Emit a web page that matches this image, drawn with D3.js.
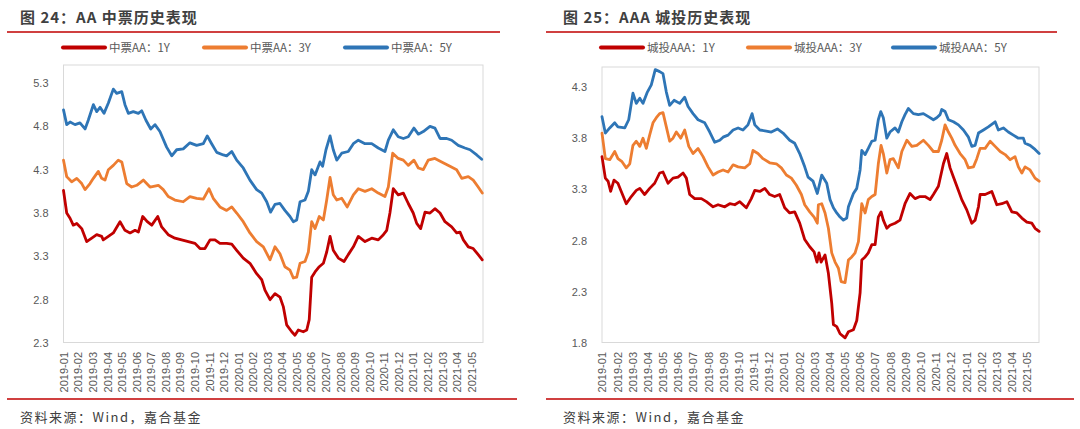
<!DOCTYPE html>
<html><head><meta charset="utf-8">
<script src="https://cdn.jsdelivr.net/npm/d3@7/dist/d3.min.js"></script>
<style>
html,body{margin:0;padding:0;background:#fff;}
svg{display:block;}
text{font-family:"Liberation Sans","Noto Sans CJK SC",Arial,sans-serif;}
.cjk{font-family:"Noto Sans CJK SC","Liberation Sans",sans-serif;}
</style></head>
<body>
<svg id="chart" width="1080" height="429"></svg>
<script>
// ---------- tick labels (month categories) ----------
const monthLabels = ["2019-01","2019-02","2019-03","2019-04","2019-05","2019-06","2019-07","2019-08","2019-09","2019-10","2019-11","2019-12",
  "2020-01","2020-02","2020-03","2020-04","2020-05","2020-06","2020-07","2020-08","2020-09","2020-10","2020-11","2020-12",
  "2021-01","2021-02","2021-03","2021-04","2021-05"];
const leftYTicks = [2.3, 2.8, 3.3, 3.8, 4.3, 4.8, 5.3];
const rightYTicks = [1.8, 2.3, 2.8, 3.3, 3.8, 4.3];

// ---------- series: [month offset from 2019-01-01, yield %] ----------
const mtnAA1Y = [[0,4.06],[0.22,3.80],[0.45,3.74],[0.67,3.66],[0.91,3.68],[1.25,3.62],[1.59,3.47],[1.94,3.51],[2.28,3.55],[2.62,3.53],[2.73,3.49],[3.08,3.53],[3.42,3.57],[3.88,3.70],[4.22,3.60],[4.57,3.57],[4.91,3.60],[5.14,3.58],[5.44,3.76],[5.75,3.70],[6.06,3.66],[6.47,3.76],[6.74,3.64],[7.19,3.55],[7.65,3.51],[8.11,3.49],[8.57,3.47],[9.03,3.45],[9.37,3.39],[9.71,3.39],[10.06,3.49],[10.40,3.49],[10.74,3.45],[11.20,3.45],[11.55,3.44],[11.89,3.37],[12.34,3.28],[12.80,3.22],[13.26,3.10],[13.61,3.03],[13.83,2.91],[14.18,2.80],[14.52,2.87],[14.86,2.83],[15.09,2.72],[15.32,2.51],[15.67,2.43],[15.89,2.39],[16.12,2.45],[16.46,2.43],[16.70,2.45],[16.87,2.57],[17.04,3.06],[17.27,3.12],[17.56,3.18],[17.84,3.22],[18.07,3.35],[18.30,3.53],[18.52,3.37],[18.87,3.28],[19.26,3.24],[19.55,3.32],[19.90,3.41],[20.24,3.53],[20.70,3.47],[21.16,3.51],[21.61,3.49],[21.96,3.55],[22.19,3.60],[22.41,3.80],[22.64,4.08],[22.98,4.01],[23.33,4.03],[23.67,3.91],[24.01,3.80],[24.25,3.68],[24.52,3.62],[24.82,3.81],[25.16,3.80],[25.50,3.85],[25.85,3.80],[26.19,3.70],[26.65,3.64],[26.99,3.57],[27.22,3.58],[27.45,3.49],[27.79,3.41],[28.13,3.39],[28.47,3.32],[28.75,3.26]];
const mtnAA3Y = [[0,4.41],[0.22,4.22],[0.56,4.16],[0.91,4.20],[1.25,4.14],[1.48,4.07],[1.82,4.14],[2.05,4.20],[2.39,4.28],[2.62,4.20],[2.85,4.18],[3.08,4.30],[3.42,4.35],[3.76,4.41],[4.00,4.39],[4.34,4.14],[4.68,4.10],[5.03,4.12],[5.48,4.18],[5.94,4.10],[6.51,4.12],[6.85,4.07],[7.19,3.99],[7.65,3.95],[8.22,3.93],[8.68,3.99],[9.14,3.97],[9.60,3.96],[9.99,4.08],[10.28,3.97],[10.74,3.87],[11.20,3.83],[11.55,3.87],[11.89,3.80],[12.34,3.70],[12.80,3.57],[13.26,3.47],[13.72,3.41],[14.18,3.26],[14.52,3.41],[14.86,3.33],[15.20,3.18],[15.55,3.14],[15.78,3.05],[16.01,3.06],[16.24,3.22],[16.58,3.24],[16.81,3.35],[17.04,3.70],[17.27,3.62],[17.56,3.76],[17.84,3.72],[18.07,3.95],[18.30,4.21],[18.52,4.01],[18.76,3.95],[19.10,3.97],[19.48,3.87],[19.90,4.01],[20.24,4.08],[20.70,4.05],[21.16,4.08],[21.61,4.03],[22.07,3.99],[22.30,4.10],[22.60,4.49],[22.98,4.43],[23.33,4.41],[23.67,4.35],[24.06,4.41],[24.36,4.32],[24.70,4.30],[25.04,4.41],[25.50,4.43],[25.96,4.39],[26.53,4.34],[26.99,4.30],[27.34,4.20],[27.79,4.22],[28.13,4.18],[28.47,4.10],[28.75,4.03]];
const mtnAA5Y = [[0,4.99],[0.22,4.82],[0.45,4.85],[0.79,4.82],[1.13,4.84],[1.48,4.77],[1.70,4.87],[2.05,5.05],[2.28,4.97],[2.51,5.02],[2.78,4.95],[3.08,5.07],[3.42,5.23],[3.65,5.18],[4.00,5.20],[4.22,5.05],[4.45,4.95],[4.79,4.97],[5.14,4.95],[5.37,4.98],[5.66,4.87],[5.99,4.77],[6.28,4.82],[6.62,4.74],[7.08,4.56],[7.43,4.46],[7.77,4.53],[8.22,4.54],[8.68,4.61],[9.14,4.58],[9.60,4.60],[9.87,4.69],[10.17,4.60],[10.52,4.50],[10.97,4.47],[11.20,4.46],[11.55,4.51],[11.89,4.41],[12.34,4.32],[12.80,4.18],[13.26,4.07],[13.61,4.03],[13.95,3.93],[14.22,3.81],[14.52,3.90],[14.86,3.91],[15.20,3.83],[15.55,3.76],[15.78,3.70],[16.01,3.72],[16.24,3.93],[16.58,3.95],[16.81,4.05],[17.04,4.30],[17.27,4.24],[17.61,4.39],[17.79,4.34],[18.02,4.53],[18.30,4.69],[18.52,4.53],[18.76,4.41],[19.10,4.49],[19.55,4.51],[19.90,4.60],[20.24,4.64],[20.70,4.60],[21.16,4.60],[21.61,4.55],[22.07,4.51],[22.30,4.64],[22.64,4.76],[22.98,4.68],[23.33,4.66],[23.67,4.68],[24.06,4.78],[24.36,4.71],[24.70,4.74],[25.16,4.80],[25.50,4.78],[25.85,4.66],[26.31,4.66],[26.65,4.64],[27.10,4.58],[27.56,4.55],[27.91,4.53],[28.37,4.47],[28.71,4.42]];

const lgfvAAA1Y = [[0,3.62],[0.22,3.41],[0.40,3.38],[0.57,3.28],[0.79,3.39],[1.05,3.36],[1.27,3.28],[1.60,3.16],[1.93,3.23],[2.26,3.29],[2.49,3.31],[2.81,3.25],[3.14,3.31],[3.47,3.36],[3.80,3.46],[4.02,3.47],[4.35,3.36],[4.68,3.41],[5.01,3.42],[5.34,3.46],[5.56,3.41],[5.78,3.25],[6.11,3.21],[6.55,3.21],[6.88,3.18],[7.32,3.13],[7.65,3.15],[8.09,3.13],[8.42,3.16],[8.75,3.15],[9.08,3.18],[9.51,3.12],[9.84,3.21],[10.07,3.29],[10.40,3.28],[10.73,3.31],[11.05,3.25],[11.38,3.23],[11.71,3.25],[12.04,3.12],[12.37,3.07],[12.70,3.08],[13.03,2.97],[13.36,2.81],[13.69,2.74],[13.98,2.69],[14.17,2.59],[14.30,2.68],[14.44,2.59],[14.70,2.66],[14.92,2.48],[15.14,2.19],[15.25,1.98],[15.47,1.96],[15.69,1.89],[16.02,1.85],[16.24,1.91],[16.57,1.93],[16.79,2.02],[17.01,2.29],[17.12,2.61],[17.34,2.64],[17.55,2.68],[17.78,2.76],[18.00,2.76],[18.21,3.03],[18.39,3.08],[18.54,3.00],[18.77,2.92],[18.98,2.95],[19.31,2.97],[19.64,3.00],[19.97,3.16],[20.30,3.26],[20.63,3.21],[20.96,3.23],[21.29,3.23],[21.62,3.20],[21.84,3.25],[22.17,3.33],[22.50,3.55],[22.72,3.65],[22.94,3.51],[23.16,3.42],[23.49,3.29],[23.71,3.20],[24.04,3.10],[24.37,2.97],[24.59,3.00],[24.81,3.13],[24.92,3.25],[25.25,3.25],[25.69,3.28],[26.02,3.15],[26.35,3.16],[26.68,3.18],[27.01,3.08],[27.34,3.07],[27.67,3.02],[28.00,2.98],[28.33,2.97],[28.54,2.92],[28.81,2.89]];
const lgfvAAA3Y = [[0,3.85],[0.22,3.60],[0.51,3.59],[0.84,3.67],[1.05,3.60],[1.32,3.57],[1.60,3.51],[1.83,3.55],[2.04,3.73],[2.26,3.77],[2.49,3.72],[2.70,3.80],[2.92,3.70],[3.14,3.83],[3.36,3.95],[3.58,4.00],[3.80,4.04],[4.02,4.05],[4.24,3.91],[4.46,3.77],[4.68,3.80],[4.90,3.86],[5.19,3.80],[5.45,3.88],[5.72,3.72],[6.00,3.65],[6.33,3.70],[6.66,3.62],[6.99,3.52],[7.32,3.44],[7.65,3.47],[7.98,3.49],[8.31,3.47],[8.64,3.54],[8.97,3.52],[9.41,3.51],[9.74,3.55],[9.95,3.68],[10.28,3.65],[10.61,3.60],[11.05,3.56],[11.49,3.55],[11.82,3.51],[12.15,3.44],[12.48,3.41],[12.81,3.34],[13.14,3.25],[13.36,3.15],[13.69,3.08],[13.98,3.03],[14.19,2.97],[14.26,3.15],[14.48,3.16],[14.70,3.07],[14.92,2.92],[15.14,2.68],[15.36,2.59],[15.58,2.53],[15.76,2.40],[16.02,2.39],[16.24,2.61],[16.46,2.64],[16.68,2.68],[16.90,2.79],[17.12,3.16],[17.34,3.07],[17.55,3.20],[17.78,3.23],[18.00,3.25],[18.21,3.55],[18.39,3.73],[18.54,3.65],[18.77,3.46],[18.98,3.59],[19.20,3.60],[19.53,3.51],[19.76,3.67],[20.09,3.78],[20.42,3.72],[20.75,3.73],[21.18,3.78],[21.51,3.73],[21.84,3.67],[22.17,3.67],[22.39,3.78],[22.61,3.93],[22.83,3.86],[23.05,3.80],[23.27,3.73],[23.60,3.65],[23.93,3.59],[24.15,3.51],[24.48,3.52],[24.70,3.60],[24.92,3.70],[25.25,3.70],[25.58,3.77],[25.91,3.72],[26.24,3.67],[26.57,3.64],[26.90,3.59],[27.22,3.62],[27.44,3.52],[27.67,3.46],[27.88,3.52],[28.21,3.49],[28.54,3.41],[28.81,3.38]];
const lgfvAAA5Y = [[0,4.01],[0.22,3.85],[0.51,3.90],[0.84,3.95],[1.05,3.91],[1.50,3.90],[1.76,3.98],[2.04,4.24],[2.26,4.14],[2.49,4.19],[2.70,4.14],[2.99,4.25],[3.25,4.32],[3.51,4.47],[3.80,4.45],[4.02,4.43],[4.24,4.25],[4.46,4.12],[4.75,4.17],[5.12,4.14],[5.45,4.20],[5.67,4.11],[6.00,4.04],[6.33,3.98],[6.77,3.95],[7.10,3.86],[7.43,3.76],[7.76,3.78],[7.98,3.81],[8.31,3.83],[8.64,3.88],[8.97,3.90],[9.29,3.88],[9.62,3.93],[9.89,4.04],[10.07,3.93],[10.40,3.88],[10.83,3.87],[11.16,3.86],[11.56,3.89],[11.93,3.85],[12.37,3.78],[12.70,3.75],[13.03,3.65],[13.36,3.52],[13.58,3.42],[13.91,3.38],[14.19,3.26],[14.48,3.44],[14.81,3.36],[15.03,3.20],[15.25,3.12],[15.47,3.07],[15.69,3.03],[15.91,3.00],[16.13,3.02],[16.24,3.13],[16.57,3.26],[16.79,3.31],[17.01,3.49],[17.12,3.68],[17.34,3.64],[17.55,3.70],[17.78,3.77],[18.00,3.78],[18.21,3.98],[18.37,4.06],[18.54,4.00],[18.77,3.80],[18.98,3.86],[19.31,3.90],[19.53,3.86],[19.76,3.96],[19.97,4.03],[20.19,4.09],[20.52,4.04],[20.85,4.03],[21.18,4.04],[21.51,4.01],[21.84,3.98],[22.06,4.00],[22.28,4.03],[22.39,4.08],[22.61,4.06],[22.83,3.98],[23.16,3.96],[23.49,3.93],[23.82,3.88],[24.15,3.81],[24.37,3.72],[24.59,3.73],[24.81,3.85],[25.14,3.88],[25.46,3.91],[25.91,3.96],[26.12,3.88],[26.45,3.90],[26.78,3.86],[27.11,3.83],[27.44,3.80],[27.77,3.80],[27.88,3.75],[28.21,3.73],[28.54,3.69],[28.81,3.65]];

const leftNames = ["中票AA：1Y","中票AA：3Y","中票AA：5Y"];
const rightNames = ["城投AAA：1Y","城投AAA：3Y","城投AAA：5Y"];
const colors = ["#C00000","#ED7D31","#2E75B6"];

const svg = d3.select("#chart");

function drawPanel(cfg){
  const g = svg.append("g");
  // title
  g.append("text").attr("class","cjk").attr("x",cfg.titleX).attr("y",23)
    .attr("font-size",15).attr("font-weight","bold").attr("fill","#404040")
    .attr("letter-spacing","1px").text(cfg.title);
  // red rules
  g.append("line").attr("x1",cfg.ruleX1).attr("x2",cfg.ruleX2).attr("y1",32).attr("y2",32)
    .attr("stroke","#C00000").attr("stroke-width",1.6);
  g.append("line").attr("x1",cfg.ruleX1).attr("x2",cfg.bottomRuleX2).attr("y1",399).attr("y2",399)
    .attr("stroke","#C00000").attr("stroke-width",1.6);
  // source
  g.append("text").attr("class","cjk").attr("x",cfg.titleX).attr("y",422)
    .attr("font-size",13).attr("fill","#404040").attr("letter-spacing","1.5px")
    .text("资料来源：Wind，嘉合基金");

  const x = d3.scaleLinear().domain([0,28.8]).range([cfg.px0, cfg.px1]);
  const y = d3.scaleLinear().domain(cfg.yDomain).range([343, cfg.yTopPx]);

  // frame
  g.append("rect").attr("x",cfg.px0).attr("y",cfg.frameTop).attr("width",cfg.px1-cfg.px0)
    .attr("height",342.5-cfg.frameTop).attr("fill","none").attr("stroke","#D9D9D9").attr("stroke-width",1);

  // y axis labels
  const ya = g.append("g").attr("transform",`translate(${cfg.px0},0)`)
    .call(d3.axisLeft(y).tickValues(cfg.yTicks).tickFormat(d3.format(".1f")).tickSize(0).tickPadding(15));
  ya.select(".domain").remove();
  ya.selectAll("text").attr("font-size",11).attr("fill","#595959").attr("font-family","Liberation Sans, Arial, sans-serif");

  // x axis labels (rotated)
  const xa = g.append("g").attr("transform","translate(0,350)")
    .call(d3.axisBottom(x).tickValues(d3.range(monthLabels.length)).tickFormat(i=>monthLabels[i]).tickSize(0));
  xa.select(".domain").remove();
  xa.selectAll("text").attr("font-size",11).attr("fill","#595959").attr("font-family","Liberation Sans, Arial, sans-serif")
    .attr("transform","rotate(-90)").attr("text-anchor","end").attr("x",-2).attr("y",0).attr("dy","0.35em");

  // lines
  const line = d3.line().x(d=>x(d[0])).y(d=>y(d[1]));
  cfg.series.forEach((s,i)=>{
    g.append("path").datum(s).attr("d",line).attr("fill","none")
      .attr("stroke",colors[i]).attr("stroke-width",2.8).attr("stroke-linejoin","round").attr("stroke-linecap","round");
  });

  // legend
  cfg.names.forEach((n,i)=>{
    const lx = cfg.legendX[i];
    g.append("line").attr("x1",lx).attr("x2",lx+42).attr("y1",47.5).attr("y2",47.5)
      .attr("stroke",colors[i]).attr("stroke-width",4).attr("stroke-linecap","round");
    g.append("text").attr("class","cjk").attr("x",lx+46).attr("y",52).attr("font-size",11.5)
      .attr("fill","#595959").text(n);
  });
}

drawPanel({
  title:"图 24：AA 中票历史表现", titleX:20, ruleX1:7, ruleX2:500, bottomRuleX2:517,
  px0:63.5, px1:483, yDomain:[2.3,5.5], yTopPx:65.7, frameTop:65, yTicks:leftYTicks,
  series:[mtnAA1Y, mtnAA3Y, mtnAA5Y], names:leftNames, legendX:[63,204,345]
});
drawPanel({
  title:"图 25：AAA 城投历史表现", titleX:563, ruleX1:546, ruleX2:1057, bottomRuleX2:1074,
  px0:602, px1:1039, yDomain:[1.8,4.5], yTopPx:66.5, frameTop:67, yTicks:rightYTicks,
  series:[lgfvAAA1Y, lgfvAAA3Y, lgfvAAA5Y], names:rightNames, legendX:[601,748,893]
});
</script>
</body></html>
